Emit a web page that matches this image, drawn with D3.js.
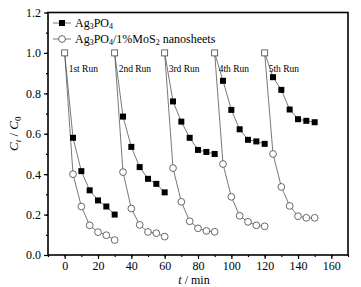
<!DOCTYPE html>
<html>
<head>
<meta charset="utf-8">
<script src="https://cdn.jsdelivr.net/npm/d3@7"></script>
<style>
  body { margin: 0; background: #fff; }
  text { font-family: "Liberation Serif", "Times New Roman", serif; fill: #000; }
</style>
</head>
<body>
<div id="plot"></div>
<script>
// run starts (t, min) and the sampling within each run
const runStarts = [0, 30, 60, 90, 120];
const runOffsets = [0, 5, 10, 15, 20, 25, 30];
const runLabels = ['1st Run', '2nd Run', '3rd Run', '4th Run', '5th Run'];

// C/C0 per run, Ag3PO4
const agRuns = [
  [1.0, 0.58, 0.415, 0.32, 0.27, 0.24, 0.20],
  [1.0, 0.685, 0.535, 0.435, 0.377, 0.352, 0.31],
  [1.0, 0.76, 0.66, 0.58, 0.52, 0.51, 0.50],
  [1.0, 0.862, 0.718, 0.622, 0.57, 0.562, 0.55],
  [1.0, 0.88, 0.817, 0.72, 0.672, 0.664, 0.657]
];
// C/C0 per run, Ag3PO4/1%MoS2
const mosRuns = [
  [1.0, 0.40, 0.24, 0.147, 0.113, 0.098, 0.074],
  [1.0, 0.41, 0.23, 0.149, 0.114, 0.108, 0.091],
  [1.0, 0.43, 0.263, 0.167, 0.132, 0.119, 0.115],
  [1.0, 0.45, 0.288, 0.194, 0.164, 0.147, 0.142],
  [1.0, 0.50, 0.337, 0.243, 0.192, 0.184, 0.184]
];

const xTicks = [0, 20, 40, 60, 80, 100, 120, 140, 160];
const yTicks = [0.0, 0.2, 0.4, 0.6, 0.8, 1.0, 1.2];

window.addEventListener('load', main);

function main(){
  let [W, H] = [361, 287];
  let [x0, x1, y0, y1] = [48, 348, 255, 12.5];

  let svg = d3.select('#plot').append('svg')
              .attr('width', W).attr('height', H);

  let scX = d3.scaleLinear().domain([-10, 170]).range([x0, x1]);
  let scY = d3.scaleLinear().domain([0, 1.2]).range([y0, y1]);

  // axes
  let xAxis = d3.axisBottom(scX).tickValues(xTicks).tickSize(4).tickPadding(2).tickFormat(d3.format('d'));
  let xMinor = d3.axisBottom(scX).tickValues(d3.range(-10, 171, 10)).tickSize(2).tickFormat('');
  let yAxis = d3.axisLeft(scY).tickValues(yTicks).tickSize(4).tickPadding(3).tickFormat(d3.format('.1f'));
  let yMinor = d3.axisLeft(scY).tickValues(d3.range(0, 1.21, 0.1)).tickSize(2).tickFormat('');

  let styleAxis = g => {
    g.select('.domain').remove();
    g.selectAll('line').attr('stroke', '#000').attr('stroke-width', 1.2);
    g.selectAll('text').attr('font-size', 12).attr('font-family', '"Liberation Serif", serif');
  };

  svg.append('g').attr('transform', `translate(0,${y0})`).call(xMinor).call(styleAxis);
  svg.append('g').attr('transform', `translate(0,${y0})`).call(xAxis).call(styleAxis);
  svg.append('g').attr('transform', `translate(${x0},0)`).call(yMinor).call(styleAxis);
  svg.append('g').attr('transform', `translate(${x0},0)`).call(yAxis).call(styleAxis);

  // frame
  svg.append('rect')
     .attr('x', x0).attr('y', y1)
     .attr('width', x1 - x0).attr('height', y0 - y1)
     .attr('fill', 'none').attr('stroke', '#000').attr('stroke-width', 1.6);

  let line = d3.line().x(d => scX(d.t)).y(d => scY(d.v));

  let toPts = (vals, r) => vals.map((v, i) => ({t: runStarts[r] + runOffsets[i], v: v}));

  let plotG = svg.append('g');

  // lines
  [mosRuns, agRuns].forEach(series => {
    series.forEach((vals, r) => {
      plotG.append('path').attr('d', line(toPts(vals, r)))
           .attr('fill', 'none').attr('stroke', '#555').attr('stroke-width', 0.8);
    });
  });

  // open circles (skip start point)
  mosRuns.forEach((vals, r) => {
    plotG.selectAll(null).data(toPts(vals, r).slice(1)).enter()
         .append('circle')
         .attr('cx', d => scX(d.t)).attr('cy', d => scY(d.v)).attr('r', 3.4)
         .attr('fill', '#fff').attr('stroke', '#444').attr('stroke-width', 0.8);
  });

  // filled squares (skip start point)
  agRuns.forEach((vals, r) => {
    plotG.selectAll(null).data(toPts(vals, r).slice(1)).enter()
         .append('rect')
         .attr('x', d => scX(d.t) - 3).attr('y', d => scY(d.v) - 3)
         .attr('width', 6).attr('height', 6).attr('fill', '#000');
  });

  // start points: open squares
  agRuns.forEach((vals, r) => {
    let p = toPts(vals, r)[0];
    plotG.append('rect')
         .attr('x', scX(p.t) - 3).attr('y', scY(p.v) - 3)
         .attr('width', 6).attr('height', 6)
         .attr('fill', '#fff').attr('stroke', '#444').attr('stroke-width', 0.8);
  });

  // run labels
  runLabels.forEach((lab, r) => {
    svg.append('text')
       .attr('x', scX(runStarts[r]) + 4).attr('y', 72)
       .attr('font-size', 9.5).text(lab);
  });

  // legend
  let leg = svg.append('g');
  leg.append('line').attr('x1', 53).attr('x2', 71).attr('y1', 23).attr('y2', 23)
     .attr('stroke', '#555').attr('stroke-width', 0.8);
  leg.append('rect').attr('x', 59).attr('y', 20).attr('width', 6).attr('height', 6).attr('fill', '#000');
  let t1 = leg.append('text').attr('x', 75).attr('y', 27).attr('font-size', 12);
  t1.append('tspan').text('Ag');
  t1.append('tspan').attr('font-size', 8).attr('dy', 2).text('3');
  t1.append('tspan').attr('dy', -2).text('PO');
  t1.append('tspan').attr('font-size', 8).attr('dy', 2).text('4');

  leg.append('line').attr('x1', 53).attr('x2', 71).attr('y1', 39).attr('y2', 39)
     .attr('stroke', '#555').attr('stroke-width', 0.8);
  leg.append('circle').attr('cx', 62).attr('cy', 39).attr('r', 3.4)
     .attr('fill', '#fff').attr('stroke', '#444').attr('stroke-width', 0.8);
  let t2 = leg.append('text').attr('x', 75).attr('y', 43).attr('font-size', 12);
  t2.append('tspan').text('Ag');
  t2.append('tspan').attr('font-size', 8).attr('dy', 2).text('3');
  t2.append('tspan').attr('dy', -2).text('PO');
  t2.append('tspan').attr('font-size', 8).attr('dy', 2).text('4');
  t2.append('tspan').attr('dy', -2).text('/1%MoS');
  t2.append('tspan').attr('font-size', 8).attr('dy', 2).text('2');
  t2.append('tspan').attr('dy', -2).text(' nanosheets');

  // axis titles
  let xt = svg.append('text').attr('x', 194).attr('y', 284)
              .attr('text-anchor', 'middle').attr('font-size', 12);
  xt.append('tspan').attr('font-style', 'italic').text('t');
  xt.append('tspan').text(' / min');

  let yt = svg.append('text')
              .attr('transform', `translate(18,${(y0 + y1) / 2}) rotate(-90)`)
              .attr('text-anchor', 'middle').attr('font-size', 13);
  yt.append('tspan').attr('font-style', 'italic').text('C');
  yt.append('tspan').attr('font-style', 'italic').attr('font-size', 9).attr('dy', 3).text('t');
  yt.append('tspan').attr('dy', -3).text(' / ');
  yt.append('tspan').attr('font-style', 'italic').text('C');
  yt.append('tspan').attr('font-size', 9).attr('dy', 3).text('0');
}
</script>
</body>
</html>
